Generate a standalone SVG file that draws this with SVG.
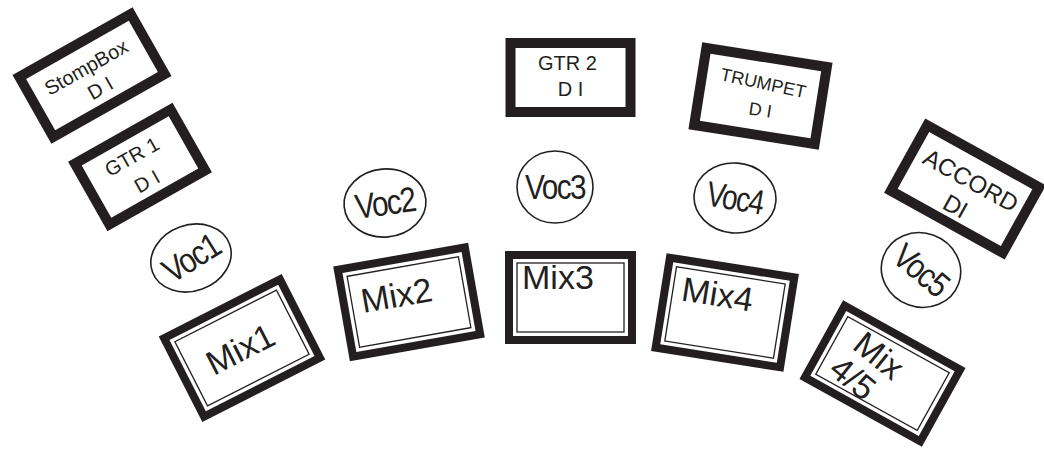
<svg xmlns="http://www.w3.org/2000/svg" width="1044" height="452" viewBox="0 0 1044 452">
<style>
  .di{fill:#fff;stroke:#231f20;stroke-width:10}
  .mo{fill:#fff;stroke:#231f20;stroke-width:8}
  .mi{fill:none;stroke:#231f20;stroke-width:1.3}
  .voc{fill:#fff;stroke:#231f20;stroke-width:1.6}
  text{font-family:"Liberation Sans",Arial,Helvetica,sans-serif;fill:#231f20}
  .t20{font-size:20px;text-anchor:middle}
  .t18{font-size:18px;text-anchor:middle}
  .t24{font-size:24px;text-anchor:middle}
  .mix{font-size:34px}
  .vt{font-size:35px;text-anchor:middle;letter-spacing:-1.8px}
</style>
<rect width="1044" height="452" fill="#fff"/>
<g id="connectors"/>

<g id="stompbox-di" transform="translate(92,75.5) rotate(-29.5)">
  <rect class="di" x="-64" y="-34.5" width="128" height="69"/>
  <text class="t20" x="-1" y="-3">StompBox</text>
  <text class="t20" x="1" y="22">D I</text>
</g>
<g id="gtr1-di" transform="translate(140,167) rotate(-29.5)">
  <rect class="di" x="-55" y="-35" width="110" height="70"/>
  <text class="t20" x="-2" y="-6">GTR 1</text>
  <text class="t20" x="-1" y="23">D I</text>
</g>
<g id="gtr2-di" transform="translate(570.5,77.5)">
  <rect class="di" x="-60" y="-34.5" width="120" height="69"/>
  <text class="t20" x="-3" y="-7.5">GTR 2</text>
  <text class="t20" x="0" y="18.5">D I</text>
</g>
<g id="trumpet-di" transform="translate(760.5,96) rotate(9)">
  <rect class="di" x="-61" y="-39" width="122" height="78"/>
  <text class="t18" x="0" y="-7" transform="rotate(3)">TRUMPET</text>
  <text class="t18" x="2" y="20">D I</text>
</g>
<g id="accord-di" transform="translate(965,189) rotate(29)">
  <rect class="di" x="-64" y="-37.5" width="128" height="75"/>
  <text class="t24" x="1" y="-2">ACCORD</text>
  <text class="t24" x="0" y="28">DI</text>
</g>

<g id="voc1" transform="translate(191,258)">
  <ellipse class="voc" rx="41" ry="33" transform="rotate(-20)"/>
  <text class="vt" transform="rotate(-32) scale(0.85,1)" x="0" y="12">Voc1</text>
</g>
<g id="voc2" transform="translate(385,203)">
  <ellipse class="voc" rx="41" ry="34" transform="rotate(-5)"/>
  <text class="vt" transform="rotate(-8) scale(0.85,1)" x="0" y="12">Voc2</text>
</g>
<g id="voc3" transform="translate(555,187)">
  <ellipse class="voc" rx="38" ry="36"/>
  <text class="vt" transform="scale(0.85,1)" x="0" y="12">Voc3</text>
</g>
<g id="voc4" transform="translate(735,198)">
  <ellipse class="voc" rx="41" ry="35" transform="rotate(5)"/>
  <text class="vt" transform="rotate(10) scale(0.8,1)" x="0" y="12">Voc4</text>
</g>
<g id="voc5" transform="translate(921,270)">
  <ellipse class="voc" rx="40" ry="37" transform="rotate(20)"/>
  <text class="vt" transform="rotate(40) scale(0.85,1)" x="0" y="12">Voc5</text>
</g>

<g id="mix1" transform="translate(242,348) rotate(-27)">
  <rect class="mo" x="-65" y="-44" width="130" height="88"/>
  <rect class="mi" x="-57" y="-36" width="114" height="72"/>
  <text class="mix" x="-2" y="12" text-anchor="middle">Mix1</text>
</g>
<g id="mix2" transform="translate(409,302) rotate(-10)">
  <rect class="mo" x="-64.5" y="-44" width="129" height="88"/>
  <rect class="mi" x="-56.5" y="-36" width="113" height="72"/>
  <text class="mix" x="-47" y="3">Mix2</text>
</g>
<g id="mix3" transform="translate(570.5,297.5)">
  <rect class="mo" x="-61.5" y="-42.5" width="123" height="85"/>
  <rect class="mi" x="-53.5" y="-34.5" width="107" height="69"/>
  <text class="mix" x="-48.5" y="-8.5">Mix3</text>
</g>
<g id="mix4" transform="translate(725,312.5) rotate(9)">
  <rect class="mo" x="-63" y="-45.5" width="126" height="91"/>
  <rect class="mi" x="-55" y="-37.5" width="110" height="75"/>
  <text class="mix" x="-46" y="-5">Mix4</text>
</g>
<g id="mix45" transform="translate(882.5,373.5) rotate(29)">
  <rect class="mo" x="-66" y="-41" width="132" height="82"/>
  <rect class="mi" x="-58" y="-33" width="116" height="66"/>
  <g transform="rotate(10)">
    <text class="mix" x="-14" y="0" text-anchor="middle">Mix</text>
    <text class="mix" x="-20" y="34" text-anchor="middle">4/5</text>
  </g>
</g>
</svg>
